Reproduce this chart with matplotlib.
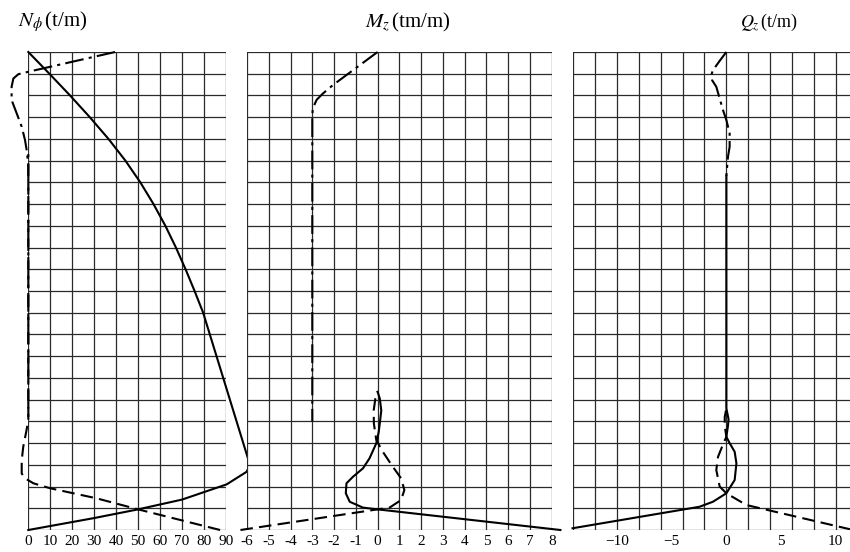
import numpy as np
import matplotlib.pyplot as plt

plt.rcParams['font.family'] = 'Liberation Serif'
plt.rcParams['mathtext.fontset'] = 'stix'

# height runs over 22 grid rows, 0 at the base
n_rows = 22

# N_phi (t/m)
nphi_solid_x = [0, 9.6, 19.0, 28.0, 36.5, 44.2, 51.0, 57.0, 62.4, 67.2, 71.6, 75.7, 79.6,
                100.9, 99.4, 90.3, 70, 50, 30, 0]
nphi_solid_y = [22, 21, 20, 19, 18, 17, 16, 15, 14, 13, 12, 11, 10,
                3, 2.68, 2.1, 1.4, 0.95, 0.55, 0]
nphi_dash_x = [87.3, 50, 31, 10, 2.3, -1.5, -3, -3, -2.3, -0.8, 0, 0]
nphi_dash_y = [0, 0.95, 1.46, 1.92, 2.15, 2.38, 2.6, 3.2, 3.83, 4.6, 5.06, 17.3]
nphi_dashdot_x = [39.5, 0, -4.5, -6.8, -7.6, -7.6, -5.3, -3, -1.5, -0.75, 0, 0]
nphi_dashdot_y = [22, 21.09, 20.98, 20.78, 20.4, 19.79, 19.18, 18.56, 17.95, 17.49, 16.8, 5.0]

# M_z (tm/m)
mz_solid_x = [8.4, 0, -0.67, -1.28, -1.46, -1.43, -1.13, -0.67, -0.37, -0.06, 0.05, 0.1, 0.17, 0.1, 0]
mz_solid_y = [0, 0.95, 1.03, 1.3, 1.69, 2.15, 2.45, 2.84, 3.3, 3.99, 4.5, 4.9, 5.5, 6.06, 6.36]
mz_dash_x = [-6.3, 0, 0.55, 1.08, 1.23, 1.08, 0.7, 0.24, -0.06, -0.17, -0.18, -0.1, 0]
mz_dash_y = [0, 0.95, 1.03, 1.38, 1.84, 2.38, 2.91, 3.6, 4.14, 4.9, 5.5, 6.06, 6.36]
mz_dashdot_x = [0, -2.05, -2.5, -2.8, -2.98, -3, -3]
mz_dashdot_y = [22, 20.48, 20.1, 19.8, 19.4, 19.0, 5.0]

# Q_z (t/m)
qz_solid_x = [-14.07, -2.45, -1.23, 0, 0.76, 0.92, 0.76, 0.3, 0, 0.15, 0.2, 0, 0]
qz_solid_y = [0.08, 1.07, 1.3, 1.69, 2.3, 3.07, 3.6, 4.0, 4.29, 4.8, 5.1, 5.6, 16.3]
qz_dash_x = [11.6, 1.83, 0, -0.61, -0.92, -0.76, -0.3, 0, -0.15, -0.15, 0]
qz_dash_y = [0.0, 1.15, 1.69, 2.0, 2.76, 3.37, 3.95, 4.29, 4.8, 5.2, 5.6]
qz_dashdot_x = [0, -0.6, -1.23, -1.38, -1.3, -0.92, -0.31, 0, 0.3, 0.3, 0.15, 0]
qz_dashdot_y = [22, 21.6, 21.16, 20.94, 20.7, 20.4, 19.33, 18.87, 18.26, 17.64, 17.18, 16.3]

W, H = 850, 552
fig = plt.figure(figsize=(W / 100, H / 100), dpi=100)

def px_axes(x0, x1, y0=52, y1=530):
    return fig.add_axes([x0 / W, 1 - y1 / H, (x1 - x0) / W, (y1 - y0) / H])

ax1 = px_axes(28.3, 226.0)
ax2 = px_axes(247.0, 551.7)
ax3 = px_axes(573.3, 850.0)

panels = [
    (ax1, (0, 90), np.arange(0, 91, 10), np.arange(0, 91, 10),
     [str(v) for v in range(0, 91, 10)]),
    (ax2, (-6, 8), np.arange(-6, 9, 1), np.arange(-6, 9, 1),
     [str(v) for v in range(-6, 9)]),
    (ax3, (-14, 11.31), np.arange(-14, 12, 2), [-10, -5, 0, 5, 10],
     ['\u221210', '\u22125', '0', '5', '10']),
]

grid_kw = dict(color='#2a2a2a', lw=0.9, zorder=1)
for ax, xlim, gx, ticks, labels in panels:
    ax.set_xlim(*xlim)
    ax.set_ylim(0, n_rows)
    for s in ax.spines.values():
        s.set_visible(False)
    for v in gx:
        ax.axvline(v, **grid_kw)
    for r in range(n_rows + 1):
        ax.axhline(r, **grid_kw)
    ax.set_yticks([])
    ax.set_xticks(ticks)
    ax.set_xticklabels(labels)
    ax.tick_params(axis='x', length=0, pad=3.5, labelsize=11)

solid_kw = dict(color='black', lw=1.5, zorder=3, clip_on=False)
dash_kw = dict(color='black', lw=1.5, zorder=3, clip_on=False, dashes=(6, 3))
dashdot_kw = dict(color='black', lw=1.5, zorder=3, clip_on=False, dashes=(9, 2.5, 1.5, 2.5))

ax1.plot(nphi_solid_x, nphi_solid_y, **solid_kw)
ax1.plot(nphi_dash_x, nphi_dash_y, **dash_kw)
ax1.plot(nphi_dashdot_x, nphi_dashdot_y, **dashdot_kw)

ax2.plot(mz_solid_x, mz_solid_y, **solid_kw)
ax2.plot(mz_dash_x, mz_dash_y, **dash_kw)
ax2.plot(mz_dashdot_x, mz_dashdot_y, **dashdot_kw)

ax3.plot(qz_solid_x, qz_solid_y, **solid_kw)
ax3.plot(qz_dash_x, qz_dash_y, **dict(dash_kw, clip_on=True))
ax3.plot(qz_dashdot_x, qz_dashdot_y, **dashdot_kw)

fig.text(18 / W, 1 - 22 / H, r'$N_\phi\,$(t/m)', ha='left', va='center', fontsize=15)
fig.text(408 / W, 1 - 22 / H, r'$M_z\,$(tm/m)', ha='center', va='center', fontsize=15)
fig.text(769 / W, 1 - 22 / H, r'$Q_z\,$(t/m)', ha='center', va='center', fontsize=13)

fig.savefig('out.png', dpi=100)
